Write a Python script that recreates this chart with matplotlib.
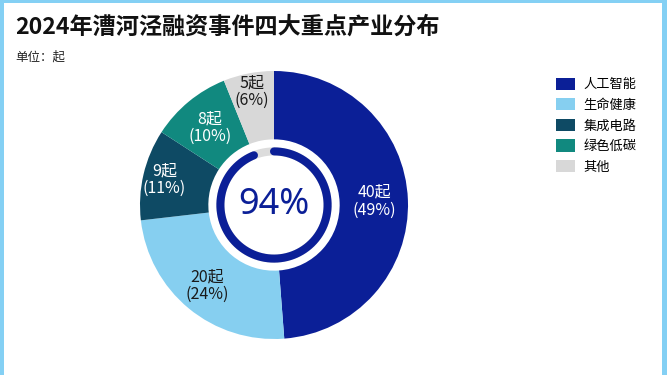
import numpy as np
import matplotlib.pyplot as plt
from matplotlib.patches import Rectangle, Patch

plt.rcParams['font.family'] = ['Noto Sans CJK SC', 'DejaVu Sans']

# 数据
industries = ['人工智能', '生命健康', '集成电路', '绿色低碳', '其他']
counts = [40, 20, 9, 8, 5]
colors = ['#0b1f97', '#86cff0', '#0e4a64', '#11897f', '#d8d8d8']
text_colors = ['white', '#1a1a1a', 'white', 'white', '#1a1a1a']
label_r = [0.75, 0.78, 0.84, 0.75, 0.86]

total = sum(counts)
pcts = [c / total * 100 for c in counts]
top4_share = sum(counts[:4]) / total

fig = plt.figure(figsize=(6.67, 3.75), dpi=100)
fig.patch.set_facecolor('#84d0f4')
fig.patches.append(Rectangle((4 / 667, 0), 658 / 667, 372 / 375, transform=fig.transFigure,
                             facecolor='white', edgecolor='none', zorder=-10))

fig.text(15 / 667, 1 - 27 / 375, '2024年漕河泾融资事件四大重点产业分布', fontsize=16.7,
         fontweight='black', color='#111111', va='center', ha='left')
fig.text(15 / 667, 1 - 57 / 375, '单位：起', fontsize=9, color='#222222', va='center', ha='left')

ax = fig.add_axes([(274 - 134) / 667, 36 / 375, 268 / 667, 268 / 375])
ax.set_zorder(5)
wedges, _ = ax.pie(counts, colors=colors, startangle=90, counterclock=False,
                   radius=1, wedgeprops=dict(width=0.51, linewidth=0))

# 标签
for w, c, p, tc, r in zip(wedges, counts, pcts, text_colors, label_r):
    mid = np.deg2rad((w.theta1 + w.theta2) / 2)
    ax.text(r * np.cos(mid), r * np.sin(mid), f'{c}起\n({p:.0f}%)', ha='center', va='center',
            fontsize=11.5, color=tc, linespacing=1.05)

# 中心进度环
t = np.linspace(0, 2 * np.pi, 300)
ax.plot(0.40 * np.cos(t), 0.40 * np.sin(t), color='#dcdcdc', lw=5.8, solid_capstyle='butt')
ang = np.deg2rad(np.linspace(90, 90 - 360 * top4_share, 300))
ax.plot(0.40 * np.cos(ang), 0.40 * np.sin(ang), color=colors[0], lw=5.8, solid_capstyle='round')
ax.text(0, 0, f'{top4_share * 100:.0f}%', ha='center', va='center', fontsize=26,
        color=colors[0], family=['Noto Sans', 'DejaVu Sans'])

ax.set_xlim(-1, 1)
ax.set_ylim(-1, 1)
ax.set_aspect('equal')
ax.axis('off')

handles = [Patch(facecolor=c, edgecolor='none') for c in colors]
fig.legend(handles, industries, loc='upper left', bbox_to_anchor=(553 / 667, 1 - 75 / 375),
           frameon=False, fontsize=9.5, handlelength=1.5, handleheight=1.05,
           handletextpad=0.6, labelspacing=0.53, borderaxespad=0, borderpad=0.2)

fig.savefig('out.png', dpi=100, facecolor=fig.get_facecolor())
